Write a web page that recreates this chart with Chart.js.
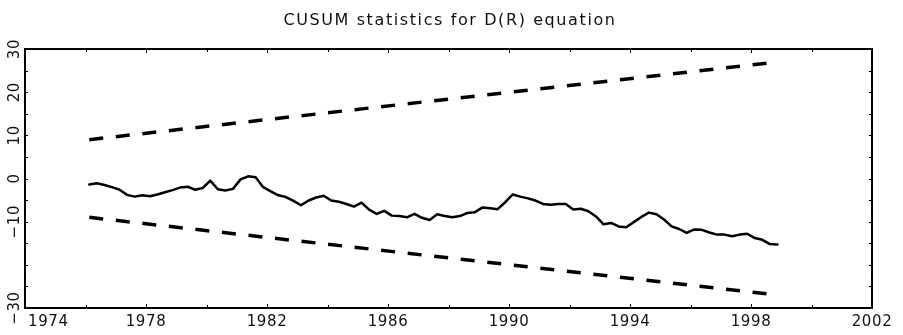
<!DOCTYPE html>
<html>
<head>
<meta charset="utf-8">
<title>CUSUM statistics for D(R) equation</title>
<script src="https://cdn.jsdelivr.net/npm/chart.js@4/dist/chart.umd.min.js"></script>
<style>
  html, body { margin: 0; padding: 0; background: #fff; }
  canvas { display: block; }
</style>
</head>
<body>
<canvas id="c" width="903" height="335"></canvas>
<script>
// Quarterly CUSUM path, first observation and step between quarters
const cusumStart = 1976.125;
const cusumStep = 0.25;
const cusumValues = [
  -1.4, -1.1, -1.5, -2.0, -2.6, -3.8, -4.2, -3.9, -4.1, -3.7,
  -3.2, -2.7, -2.1, -1.9, -2.6, -2.2, -0.5, -2.5, -2.8, -2.4,
  -0.2, 0.5, 0.3, -2.0, -3.0, -3.9, -4.3, -5.2, -6.2, -5.1,
  -4.4, -4.0, -5.1, -5.4, -5.9, -6.5, -5.6, -7.2, -8.2, -7.5,
  -8.6, -8.7, -9.0, -8.2, -9.1, -9.6, -8.3, -8.7, -9.0, -8.7,
  -8.0, -7.8, -6.7, -6.9, -7.1, -5.5, -3.7, -4.2, -4.6, -5.1,
  -5.9, -6.1, -5.9, -5.9, -7.2, -7.0, -7.6, -8.8, -10.6, -10.3,
  -11.1, -11.3, -10.1, -8.9, -7.9, -8.3, -9.5, -11.1, -11.7, -12.6,
  -11.8, -11.9, -12.5, -13.0, -13.0, -13.4, -13.0, -12.8, -13.8, -14.2,
  -15.2, -15.3
];

// 5% significance bounds: values at the first and last quarter
const upperBound = [9, 27];
const lowerBound = [-9, -27];

// Axis ranges, tick marks and labels
const xRange = [1974, 2002];
const yRange = [-30, 30];
const xMinorTicks = [1974, 1976, 1978, 1980, 1982, 1984, 1986, 1988, 1990, 1992, 1994, 1996, 1998, 2000, 2002];
const xTickLabels = [1974, 1978, 1982, 1986, 1990, 1994, 1998, 2002];
const yMinorTicks = [-30, -25, -20, -15, -10, -5, 0, 5, 10, 15, 20, 25, 30];
const yTickLabels = [30, 20, 10, 0, -10, -30];

const titleText = 'CUSUM statistics for D(R) equation';

const cusumPoints = cusumValues.map((v, i) => ({ x: cusumStart + i * cusumStep, y: v }));
const lastX = cusumStart + (cusumValues.length - 1) * cusumStep;
const upperPoints = [{ x: cusumStart, y: upperBound[0] }, { x: lastX, y: upperBound[1] }];
const lowerPoints = [{ x: cusumStart, y: lowerBound[0] }, { x: lastX, y: lowerBound[1] }];

const fmt = v => String(v).replace('-', '\u2212');

// Frame, inward ticks, tick labels and title
const framePlugin = {
  id: 'frame',
  afterDraw(chart) {
    const { ctx, chartArea: a, scales: { x, y } } = chart;
    ctx.save();
    ctx.strokeStyle = '#000';
    ctx.lineWidth = 2;
    ctx.strokeRect(a.left, a.top, a.right - a.left, a.bottom - a.top);

    ctx.lineWidth = 1;
    ctx.beginPath();
    xMinorTicks.forEach(v => {
      const px = Math.round(x.getPixelForValue(v)) + 0.5;
      const len = xTickLabels.includes(v) ? 4 : 3;
      ctx.moveTo(px, a.bottom); ctx.lineTo(px, a.bottom - len);
      ctx.moveTo(px, a.top); ctx.lineTo(px, a.top + len);
    });
    yMinorTicks.forEach(v => {
      const py = Math.round(y.getPixelForValue(v)) + 0.5;
      const len = 3;
      ctx.moveTo(a.left, py); ctx.lineTo(a.left + len, py);
      ctx.moveTo(a.right, py); ctx.lineTo(a.right - len, py);
    });
    ctx.stroke();

    ctx.fillStyle = '#111';
    ctx.font = '15px "DejaVu Sans"';
    ctx.letterSpacing = '0.6px';
    ctx.textBaseline = 'alphabetic';
    xTickLabels.forEach((v, i) => {
      const px = x.getPixelForValue(v);
      if (i === 0) {
        ctx.textAlign = 'left';
        ctx.fillText(String(v), a.left + 3, 326);
      } else {
        ctx.textAlign = 'center';
        ctx.fillText(String(v), px, 326);
      }
    });

    yTickLabels.forEach(v => {
      const py = y.getPixelForValue(v);
      ctx.save();
      ctx.translate(19, py);
      ctx.rotate(-Math.PI / 2);
      ctx.textAlign = 'center';
      ctx.fillText(fmt(v), 0, 0);
      ctx.restore();
    });

    ctx.font = '16px "DejaVu Sans"';
    ctx.letterSpacing = '1.6px';
    ctx.textAlign = 'center';
    ctx.fillText(titleText, 450, 25);
    ctx.restore();
  }
};

new Chart(document.getElementById('c'), {
  type: 'line',
  data: {
    datasets: [
      {
        label: 'CUSUM',
        data: cusumPoints,
        borderColor: '#000',
        borderWidth: 2.5,
        pointRadius: 0,
        tension: 0,
        borderJoinStyle: 'round',
        borderCapStyle: 'round'
      },
      {
        label: 'Upper 5%',
        data: upperPoints,
        borderColor: '#000',
        borderWidth: 3.5,
        borderDash: [14, 12.7],
        pointRadius: 0,
        tension: 0
      },
      {
        label: 'Lower 5%',
        data: lowerPoints,
        borderColor: '#000',
        borderWidth: 3.5,
        borderDash: [14, 12.7],
        pointRadius: 0,
        tension: 0
      }
    ]
  },
  options: {
    responsive: false,
    animation: false,
    layout: { padding: { left: 25, right: 31, top: 49, bottom: 27 } },
    plugins: { legend: { display: false }, tooltip: { enabled: false }, title: { display: false } },
    scales: {
      x: { type: 'linear', min: xRange[0], max: xRange[1], display: false },
      y: { type: 'linear', min: yRange[0], max: yRange[1], display: false }
    }
  },
  plugins: [framePlugin]
});
</script>
</body>
</html>
